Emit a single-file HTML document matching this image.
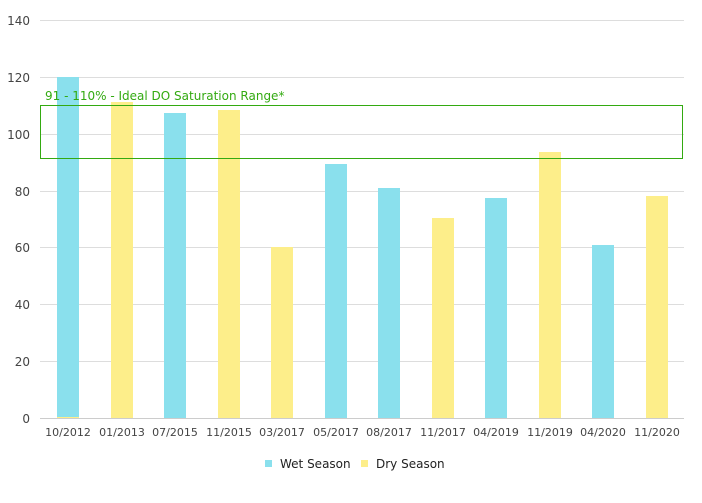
<!DOCTYPE html>
<html><head><meta charset="utf-8"><style>body{margin:0;background:#fff}</style></head><body>
<svg width="702" height="498" xmlns="http://www.w3.org/2000/svg" font-family="DejaVu Sans, sans-serif">
<g stroke="#dddddd" stroke-width="1">
<line x1="40" x2="684" y1="20.5" y2="20.5"/>
<line x1="40" x2="684" y1="77.5" y2="77.5"/>
<line x1="40" x2="684" y1="134.5" y2="134.5"/>
<line x1="40" x2="684" y1="191.5" y2="191.5"/>
<line x1="40" x2="684" y1="247.5" y2="247.5"/>
<line x1="40" x2="684" y1="304.5" y2="304.5"/>
<line x1="40" x2="684" y1="361.5" y2="361.5"/>
</g>
<g font-size="12" fill="#444" text-anchor="end">
<text x="30" y="25">140</text><text x="30" y="82">120</text><text x="30" y="139">100</text>
<text x="30" y="196">80</text><text x="30" y="252">60</text><text x="30" y="309">40</text>
<text x="30" y="366">20</text><text x="30" y="423">0</text>
</g>
<g>
<rect x="57" y="77" width="22" height="341" fill="#8ae0ed"/>
<rect x="57" y="417" width="22" height="1" fill="#fdee8a"/>
<rect x="111" y="102" width="22" height="316" fill="#fdee8a"/>
<rect x="164" y="113" width="22" height="305" fill="#8ae0ed"/>
<rect x="218" y="110" width="22" height="308" fill="#fdee8a"/>
<rect x="271" y="247" width="22" height="171" fill="#fdee8a"/>
<rect x="325" y="164" width="22" height="254" fill="#8ae0ed"/>
<rect x="378" y="188" width="22" height="230" fill="#8ae0ed"/>
<rect x="432" y="218" width="22" height="200" fill="#fdee8a"/>
<rect x="485" y="198" width="22" height="220" fill="#8ae0ed"/>
<rect x="539" y="152" width="22" height="266" fill="#fdee8a"/>
<rect x="592" y="245" width="22" height="173" fill="#8ae0ed"/>
<rect x="646" y="196" width="22" height="222" fill="#fdee8a"/>
</g>
<line x1="40" x2="684" y1="418.5" y2="418.5" stroke="#cccccc"/>
<rect x="40.5" y="105.5" width="642" height="53" fill="none" stroke="#33aa11" stroke-width="1"/>
<text x="45" y="100" font-size="12" fill="#33aa11">91 - 110% - Ideal DO Saturation Range*</text>
<g font-size="11" fill="#444" text-anchor="middle">
<text x="68" y="436">10/2012</text><text x="122" y="436">01/2013</text><text x="175" y="436">07/2015</text>
<text x="229" y="436">11/2015</text><text x="282" y="436">03/2017</text><text x="336" y="436">05/2017</text>
<text x="389" y="436">08/2017</text><text x="443" y="436">11/2017</text><text x="496" y="436">04/2019</text>
<text x="550" y="436">11/2019</text><text x="603" y="436">04/2020</text><text x="657" y="436">11/2020</text>
</g>
<rect x="265" y="460" width="7" height="7" fill="#8ae0ed"/>
<text x="280" y="468" font-size="12" fill="#222">Wet Season</text>
<rect x="361" y="460" width="7" height="7" fill="#fdee8a"/>
<text x="376" y="468" font-size="12" fill="#222">Dry Season</text>
</svg>
</body></html>
